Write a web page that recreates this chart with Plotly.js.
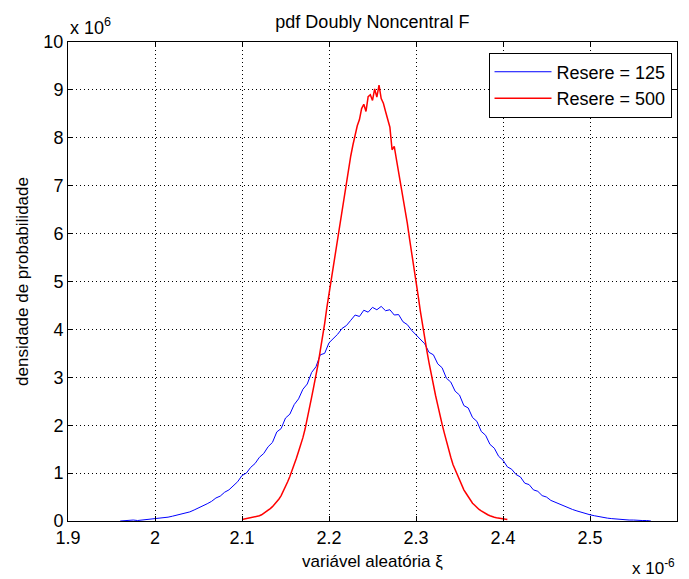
<!DOCTYPE html>
<html>
<head>
<meta charset="utf-8">
<script src="https://cdn.plot.ly/plotly-3.0.1.min.js"></script>
<style>html,body{margin:0;padding:0;background:#fff;}#chart{width:689px;height:579px;}</style>
</head>
<body>
<div id="chart"></div>
<script>
// x values in units of 1e-6, y values in units of 1e6 (as labelled on the axes)
var blueStart = 1.960, blueStep = 0.005;
var blueValues = [
0.00,0.01,0.01,0.02,0.01,0.02,0.03,0.04,0.05,0.05,
0.07,0.08,0.10,0.12,0.14,0.17,0.19,0.23,0.27,0.31,
0.36,0.41,0.48,0.52,0.60,0.65,0.74,0.82,0.95,1.00,
1.12,1.20,1.33,1.41,1.55,1.64,1.86,1.93,2.15,2.23,
2.43,2.55,2.75,2.86,3.10,3.22,3.47,3.50,3.72,3.80,
3.90,4.02,4.08,4.19,4.30,4.27,4.40,4.36,4.46,4.41,
4.48,4.39,4.41,4.30,4.31,4.16,4.10,3.98,3.89,3.80,
3.70,3.52,3.47,3.28,3.20,2.98,2.90,2.71,2.63,2.41,
2.36,2.16,2.08,1.87,1.79,1.60,1.52,1.35,1.27,1.13,
1.08,0.97,0.92,0.79,0.76,0.65,0.62,0.53,0.50,0.43,
0.39,0.35,0.31,0.27,0.24,0.21,0.18,0.15,0.13,0.11,
0.09,0.08,0.06,0.05,0.04,0.04,0.03,0.02,0.02,0.01,
0.01,0.01,0.00
];
var redStart = 2.100, redStep = 0.0025;
var redValues = [
0.03,0.04,0.04,0.05,0.06,0.07,0.08,0.09,0.11,0.13,
0.16,0.19,0.22,0.26,0.30,0.35,0.40,0.46,0.53,0.62,
0.72,0.82,0.93,1.05,1.15,1.31,1.45,1.58,1.74,1.92,
2.12,2.35,2.58,2.81,3.02,3.28,3.56,3.80,4.12,4.45,
4.74,5.06,5.32,5.58,5.92,6.26,6.51,6.80,7.10,7.32,
7.62,7.85,8.08,8.25,8.38,8.61,8.70,8.55,8.86,8.90,
8.78,9.02,8.85,9.10,8.82,8.72,8.55,8.40,8.22,7.75,
7.82,7.55,7.30,7.05,6.80,6.52,6.22,5.90,5.62,5.30,
5.00,4.70,4.38,4.08,3.78,3.55,3.30,3.05,2.85,2.62,
2.42,2.20,2.02,1.84,1.66,1.46,1.33,1.18,1.07,0.96,
0.84,0.74,0.65,0.58,0.50,0.43,0.37,0.33,0.28,0.24,
0.21,0.18,0.15,0.13,0.11,0.09,0.08,0.07,0.06,0.05,
0.04,0.04,0.03
];
var seriesNames = ["Resere = 125", "Resere = 500"];
var xTickVals = [1.9,2.0,2.1,2.2,2.3,2.4,2.5,2.6];
var xTickText = ["1.9","2","2.1","2.2","2.3","2.4","2.5","2.6"];
var yTickVals = [0,1,2,3,4,5,6,7,8,9,10];
var yTickText = ["0","1","2","3","4","5","6","7","8","9","10"];

function grid(start, step, n) {
  var a = [];
  for (var i = 0; i < n; i++) a.push(+(start + i * step).toFixed(5));
  return a;
}

var FONT = "Liberation Sans, Arial, sans-serif";

var traces = [
  {x: grid(blueStart, blueStep, blueValues.length), y: blueValues, type: "scatter", mode: "lines",
   name: seriesNames[0], line: {color: "#0000ff", width: 1}},
  {x: grid(redStart, redStep, redValues.length), y: redValues, type: "scatter", mode: "lines",
   name: seriesNames[1], line: {color: "#ff0000", width: 1.5}}
];

var axisCommon = {
  showline: true, linecolor: "#000", linewidth: 1, mirror: "ticks",
  ticks: "inside", ticklen: 5, tickcolor: "#000", tickwidth: 1,
  showgrid: true, gridcolor: "#000", gridwidth: 1, griddash: "1px,3px",
  zeroline: false, tickfont: {family: FONT, size: 18, color: "#000"}, tickmode: "array"
};

var layout = {
  width: 689, height: 579,
  margin: {l: 68, r: 12, t: 42, b: 58},
  paper_bgcolor: "#fff", plot_bgcolor: "#fff",
  font: {family: FONT, color: "#000"},
  title: {text: "pdf Doubly Noncentral F", font: {family: FONT, size: 18, color: "#000"},
          x: 0.5405, xanchor: "center", y: 1 - 22/579, yanchor: "middle"},
  xaxis: Object.assign({}, axisCommon, {
    range: [1.9, 2.6], tickvals: xTickVals, ticktext: xTickText,
    title: {text: "variável aleatória ξ", font: {family: FONT, size: 17, color: "#000"}, standoff: 8}
  }),
  yaxis: Object.assign({}, axisCommon, {
    range: [0, 10], tickvals: yTickVals, ticktext: yTickText,
    title: {text: "densidade de probabilidade", font: {family: FONT, size: 17, color: "#000"}, standoff: 10}
  }),
  showlegend: true,
  legend: {x: 0.991, xanchor: "right", y: 0.978, yanchor: "top",
           bgcolor: "#fff", bordercolor: "#000", borderwidth: 1,
           font: {family: FONT, size: 18, color: "#000"}, itemwidth: 57, tracegroupgap: 0},
  annotations: [
    {text: "x 10<sup>6</sup>", xref: "paper", yref: "paper", x: 0, xanchor: "left",
     y: 1, yanchor: "bottom", yshift: 2, showarrow: false, font: {family: FONT, size: 18, color: "#000"}},
    {text: "x 10<sup>-6</sup>", xref: "paper", yref: "paper", x: 1, xanchor: "right",
     y: 0, yanchor: "top", yshift: -33, showarrow: false, font: {family: FONT, size: 17, color: "#000"}}
  ]
};

Plotly.newPlot("chart", traces, layout, {staticPlot: true, displayModeBar: false});
</script>
</body>
</html>
